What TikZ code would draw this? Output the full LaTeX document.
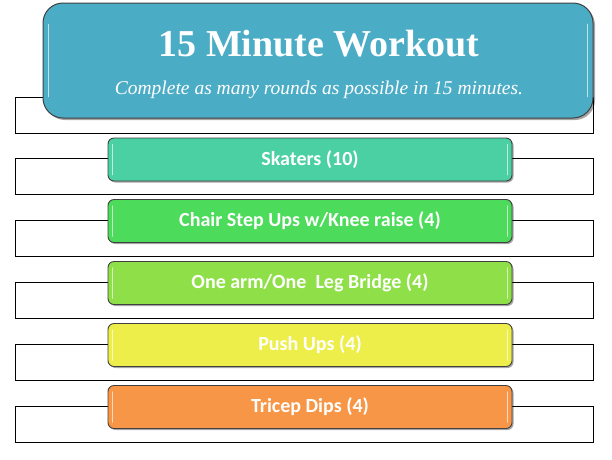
\documentclass[tikz,border=0pt]{standalone}
\usepackage{fontspec}
\setmainfont{Carlito}
\newfontfamily\titlefont{Liberation Serif}
\usetikzlibrary{shadows}
\definecolor{hdr}{HTML}{4BACC6}
\definecolor{cA}{HTML}{4BD0A4}
\definecolor{cB}{HTML}{4CDB5A}
\definecolor{cC}{HTML}{8FE048}
\definecolor{cD}{HTML}{EEEE4A}
\definecolor{cE}{HTML}{F79646}
\definecolor{edge}{HTML}{404040}
\tikzset{
  backrect/.style={draw=black, line width=0.8pt, fill=white, minimum width=578pt, minimum height=36pt, inner sep=0pt},
  stepbox/.style={draw=edge, line width=0.9pt, rounded corners=6pt, minimum width=404pt, minimum height=43pt, inner sep=0pt,
    text=white, font=\bfseries\fontsize{20}{24}\selectfont,
    drop shadow={shadow xshift=1.5pt, shadow yshift=-1.5pt, opacity=0.35, fill=black}},
  hdrbox/.style={draw=edge, line width=1pt, rounded corners=20pt, fill=hdr, minimum width=550pt, minimum height=115pt, inner sep=0pt,
    drop shadow={shadow xshift=2pt, shadow yshift=-2pt, opacity=0.35, fill=black}},
  gloss/.style={white, opacity=0.65, line width=1.6pt, line cap=round}
}
\begin{document}
\begin{tikzpicture}[x=1pt,y=-1pt]
\useasboundingbox (0,0) rectangle (612,459);
% background rectangles
\node[backrect] (r0) at (304,115) {};
\node[backrect] (r1) at (304,176) {};
\node[backrect] (r2) at (304,238.5) {};
\node[backrect] (r3) at (304,300) {};
\node[backrect] (r4) at (304,362) {};
\node[backrect] (r5) at (304,424.5) {};
% header
\node[hdrbox] (hdr) at (318,60.5) {};
\draw[gloss] ([xshift=6pt,yshift=-22pt]hdr.north west) -- ([xshift=6pt,yshift=22pt]hdr.south west);
\draw[gloss] ([xshift=-6pt,yshift=-22pt]hdr.north east) -- ([xshift=-6pt,yshift=22pt]hdr.south east);
\node[text=white, font=\titlefont\bfseries\fontsize{38}{44}\selectfont] (title) at (319,44) {15 Minute Workout};
\node[text=white, font=\titlefont\itshape\fontsize{19.5}{23}\selectfont] (sub) at (319,90) {Complete as many rounds as possible in 15 minutes.};
% steps
\node[stepbox, fill=cA] (s1) at (310,159.5) {Skaters (10)};
\node[stepbox, fill=cB] (s2) at (310,221) {Chair Step Ups w/Knee raise (4)};
\node[stepbox, fill=cC] (s3) at (310,283) {One arm/One\ \ Leg Bridge (4)};
\node[stepbox, fill=cD] (s4) at (310,345) {Push Ups (4)};
\node[stepbox, fill=cE] (s5) at (310,407) {Tricep Dips\ (4)};
\foreach \s in {s1,s2,s3,s4,s5}{
  \draw[gloss] ([xshift=5pt,yshift=-7pt]\s.north west) -- ([xshift=5pt,yshift=7pt]\s.south west);
  \draw[gloss] ([xshift=-5pt,yshift=-7pt]\s.north east) -- ([xshift=-5pt,yshift=7pt]\s.south east);
}
\end{tikzpicture}
\end{document}
